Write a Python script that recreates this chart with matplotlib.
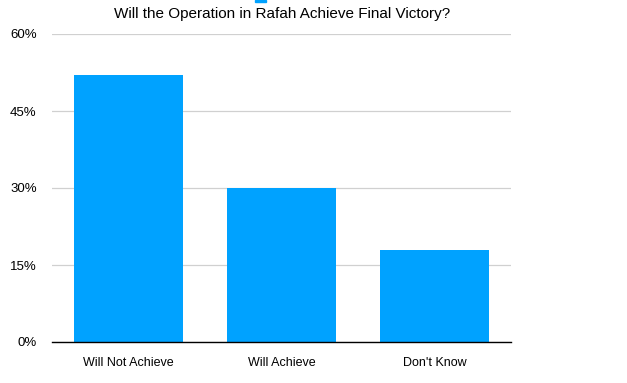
import matplotlib.pyplot as plt
import matplotlib.patches as mpatches
import numpy as np

# Daten
categories = ["Will Not Achieve", "Will Achieve", "Don't Know"]
values = [52, 30, 18]
yticks = [0, 15, 30, 45, 60]

plt.rcParams['font.family'] = ['Liberation Sans', 'DejaVu Sans']

fig = plt.figure(figsize=(6.27, 3.83), dpi=100)
ax = fig.add_axes([52 / 627, 1 - 342 / 383, 459 / 627, 308 / 383])

x = np.arange(len(categories))
ax.bar(x, values, width=0.71, color="#00a2ff", zorder=2)

ax.set_xlim(-0.5, len(categories) - 0.5)
ax.set_ylim(0, 60)
ax.set_yticks(yticks)
ax.set_yticklabels([f"{v}%" for v in yticks], fontsize=9.5)
ax.set_xticks(x)
ax.set_xticklabels(categories, fontsize=9)
ax.tick_params(axis="x", length=0, pad=11)
ax.tick_params(axis="y", length=0, pad=11)
ax.grid(axis="y", color="#d0d0d0", linewidth=0.9, zorder=0)

for side in ["top", "right", "left"]:
    ax.spines[side].set_visible(False)
ax.spines["bottom"].set_color("black")
ax.spines["bottom"].set_linewidth(1.0)

fig.text(282 / 627, 1 - 14 / 383, "Will the Operation in Rafah Achieve Final Victory?",
         ha="center", va="center", fontsize=11)

# kleine blaue Markierung oben
fig.patches.append(mpatches.Rectangle((255 / 627, 1 - 2 / 383), 11 / 627, 2 / 383,
                                      transform=fig.transFigure, color="#00a2ff"))

plt.savefig("out.png", dpi=100)
